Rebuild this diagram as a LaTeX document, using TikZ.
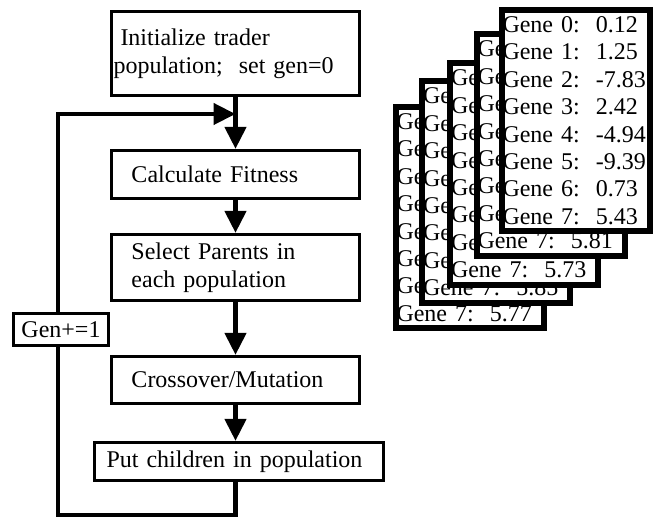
\documentclass[tikz,border=0pt]{standalone}
\usepackage{fontspec}
\setmainfont{Liberation Serif}
\usetikzlibrary{arrows.meta}

\tikzset{
	stepbox/.style={draw,rectangle,line width=1.6pt,align=left,font=\fontsize{12}{13.8}\selectfont},
	card/.style={draw,fill=white,line width=3pt,minimum width=74pt,minimum height=110pt,text width=73pt,inner xsep=0.5pt,align=left,font=\fontsize{12}{13.7}\selectfont},
	flowline/.style={line width=2.2pt},
	flowarrow/.style={line width=2.2pt,-{Triangle[length=11pt,width=10.5pt]}}
}

\begin{document}
\begin{tikzpicture}[x=0.5pt,y=-0.5pt]
			\useasboundingbox (0,0) rectangle (655,517);
			\node[stepbox,minimum height=42pt,text width=122pt,inner xsep=1pt] (init) at (235.5,53.5) {\hspace{3.5pt}Initialize trader\\population;\ \ set gen=0};
			\node[stepbox,minimum height=24pt,text width=104pt,inner xsep=10pt] (calc) at (235.5,174.5) {Calculate Fitness};
			\node[stepbox,minimum height=33pt,text width=104pt,inner xsep=10pt] (select) at (235.5,267.5) {Select Parents in\\each population};
			\node[stepbox,minimum height=23.5pt,text width=104pt,inner xsep=10pt] (cross) at (235.5,380) {Crossover/Mutation};
			\node[stepbox,minimum height=19pt,text width=132.5pt,inner xsep=6pt] (put) at (239,461.5) {Put children in population};
			\node[stepbox,minimum width=47.5pt,minimum height=16pt,align=center] (gen) at (61,329.5) {Gen+=1};
			\coordinate (join) at (235.5,114);
			\coordinate (topleft) at (58,114);
			\coordinate (bottomleft) at (58,515);
			\draw[flowarrow] (init.south) -- (calc.north);
			\draw[flowarrow] (calc.south) -- (select.north);
			\draw[flowarrow] (select.south) -- (cross.north);
			\draw[flowarrow] (cross.south) -- (cross.south |- put.north);
			\draw[flowline] (cross.south |- put.south) |- (bottomleft) -- (bottomleft |- gen.south);
			\draw[flowarrow] (topleft |- gen.north) -- (topleft) -- (join);
			\foreach \Carte/\cx/\cy/\Val in {1/469.5/217.5/5.77,2/496/192/5.85,3/524/174/5.73,4/550.5/145/5.81}
				\node[card] (card\Carte) at (\cx,\cy) {Gene 0:\\Gene 1:\\Gene 2:\\Gene 3:\\Gene 4:\\Gene 5:\\Gene 6:\\Gene 7:\ \ \Val};
			\node[card] (card5) at (575.5,120.5) {Gene 0:\ \ 0.12\\Gene 1:\ \ 1.25\\Gene 2:\ \ \mbox{-7.83}\\Gene 3:\ \ 2.42\\Gene 4:\ \ \mbox{-4.94}\\Gene 5:\ \ \mbox{-9.39}\\Gene 6:\ \ 0.73\\Gene 7:\ \ 5.43};
		\end{tikzpicture}
\end{document}
